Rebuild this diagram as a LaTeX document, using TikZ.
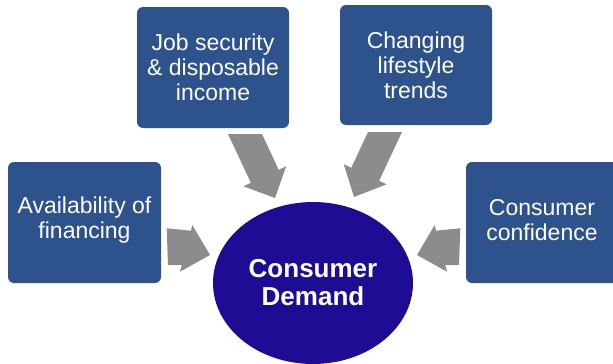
\documentclass[tikz,border=0pt]{standalone}
\usepackage{fontspec}
\setmainfont{Liberation Sans}
\usetikzlibrary{shapes.geometric}
\definecolor{boxblue}{RGB}{45,82,140}
\definecolor{coreblue}{RGB}{30,12,148}
\definecolor{arrowgray}{RGB}{140,140,140}
\begin{document}
\begin{tikzpicture}[x=1pt,y=-1pt,
  factor/.style={fill=boxblue, rounded corners=6pt, text=white, align=center,
    font=\fontsize{23}{25}\selectfont, inner sep=0pt},
  core/.style={ellipse, fill=coreblue, text=white, align=center,
    minimum width=200pt, minimum height=162pt, inner sep=0pt,
    font=\bfseries\fontsize{26}{28}\selectfont},
  blockarrow/.style={fill=arrowgray}]
\useasboundingbox (0,0) rectangle (613,364);
\begin{scope}
\clip (0,0) rectangle (613,364);
% boxes
\path[factor] (137,7) rectangle (289,128);
\node[factor, fill=none] (job) at (213,67) {Job security\\\& disposable\\income};
\path[factor] (340,5) rectangle (492,125);
\node[factor, fill=none] (life) at (416,65) {Changing\\lifestyle\\trends};
\path[factor] (8,162) rectangle (161,283);
\node[factor, fill=none] (fin) at (84.5,220) {Availability of\\financing};
\path[factor] (466,162) rectangle (622,283);
\node[factor, fill=none] (conf) at (542,220) {Consumer\\confidence};
% core
\node[core] (demand) at (313,283) {Consumer\\Demand};
% arrows
\fill[blockarrow] (228,134) -- (262,134) -- (278.7,169.8) -- (286.2,166.3)
  -- (275,198) -- (243.4,186.3) -- (250.9,182.8) -- cycle;
\fill[blockarrow] (402,132) -- (368,132) -- (351.3,167.8) -- (343.8,164.3)
  -- (354,197) -- (386.6,184.3) -- (379.1,180.8) -- cycle;
\fill[blockarrow] (166.7,228.3) -- (191,230.7) -- (192.3,225) -- (210,255)
  -- (180,271.7) -- (181.7,265) -- (168,265) -- cycle;
\fill[blockarrow] (460.3,228.3) -- (436,230.7) -- (434.7,225) -- (417,255)
  -- (447,271.7) -- (445.3,265) -- (459,265) -- cycle;
\end{scope}
\end{tikzpicture}
\end{document}
